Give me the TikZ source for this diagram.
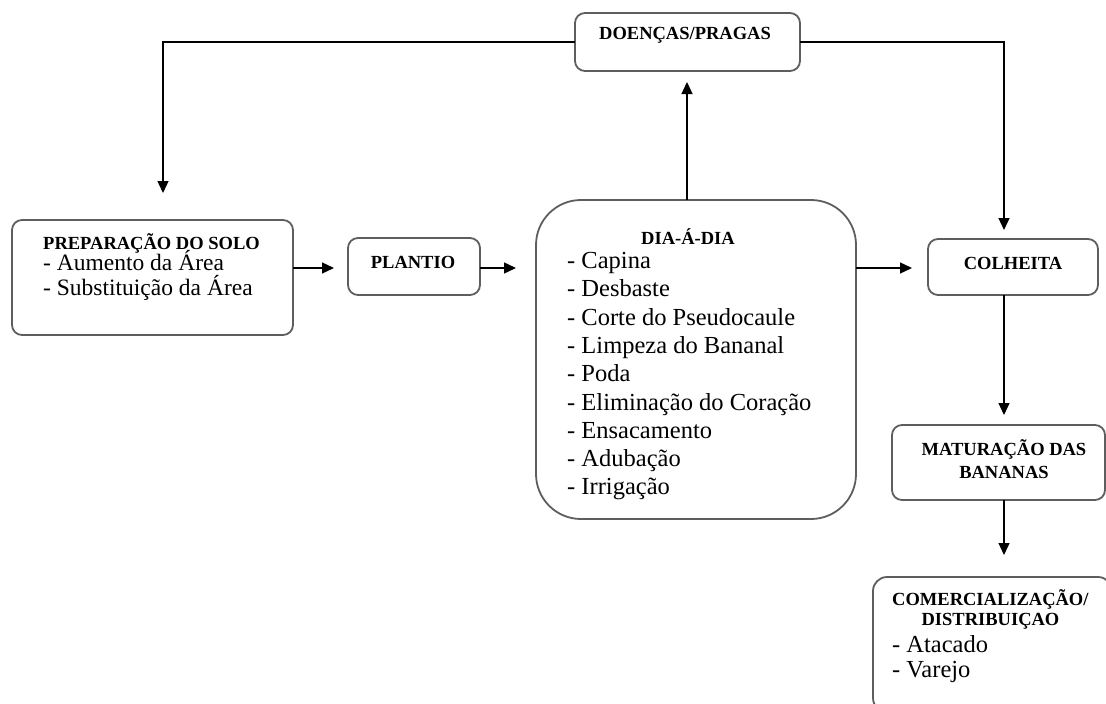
\documentclass[tikz,border=0pt]{standalone}
\usepackage{fontspec}
\setmainfont{Liberation Serif}
\usetikzlibrary{arrows.meta}
\definecolor{framegray}{HTML}{5E5E5E}
\begin{document}
\begin{tikzpicture}[x=1pt,y=-1pt,
  stagebox/.style={draw=framegray,line width=1.8pt,rounded corners=10pt,
    inner sep=0pt,outer sep=0pt,minimum width=#1},
  title/.style={font=\fontsize{18.5}{20}\selectfont\bfseries,inner sep=0pt,anchor=base},
  item/.style={font=\fontsize{24.5}{26}\selectfont,inner sep=0pt,anchor=base west},
  flow/.style={draw=black,line width=1.3pt,-{Triangle[length=12pt,width=11pt]}}]
\useasboundingbox (0,0) rectangle (1106,704);
\clip (0,0) rectangle (1106,704);

% boxes
\node[stagebox=225pt,minimum height=58pt] (doen) at (687.5,42) {};
\node[stagebox=281pt,minimum height=115pt] (prep) at (152.5,277.5) {};
\node[stagebox=132pt,minimum height=57pt] (plan) at (414,266.5) {};
\node[stagebox=320pt,minimum height=319pt,rounded corners=45pt] (dia) at (696,359.5) {};
\node[stagebox=170pt,minimum height=56pt] (colh) at (1013,267) {};
\node[stagebox=213pt,minimum height=75pt] (mat) at (998.5,462.5) {};
\node[stagebox=239pt,minimum height=135pt,rounded corners=14pt] (com) at (992.5,644.5) {};

% texts
\node[title] (tdoen) at (685,39.5) {DOENÇAS/PRAGAS};
\node[title] (tprep) at (151.5,249) {PREPARAÇÃO DO SOLO};
\node[item,font=\fontsize{23.5}{25}\selectfont] (p1) at (43,270) {- Aumento da Área};
\node[item,font=\fontsize{23.5}{25}\selectfont] (p2) at (43,295) {- Substituição da Área};
\node[title] (tplan) at (413,268.5) {PLANTIO};
\node[title] (tdia) at (688,244) {DIA-Á-DIA};
\node[item] (d1) at (567,268.5) {- Capina};
\node[item] (d2) at (567,296.8) {- Desbaste};
\node[item] (d3) at (567,325.1) {- Corte do Pseudocaule};
\node[item] (d4) at (567,353.4) {- Limpeza do Bananal};
\node[item] (d5) at (567,381.7) {- Poda};
\node[item] (d6) at (567,410) {- Eliminação do Coração};
\node[item] (d7) at (567,438.3) {- Ensacamento};
\node[item] (d8) at (567,466.6) {- Adubação};
\node[item] (d9) at (567,494.9) {- Irrigação};
\node[title] (tcolh) at (1013,269) {COLHEITA};
\node[title] (tmat1) at (1004,455) {MATURAÇÃO DAS};
\node[title] (tmat2) at (1004,478) {BANANAS};
\node[title,anchor=base west] (tcom1) at (892,605) {COMERCIALIZAÇÃO/};
\node[title] (tcom2) at (990.5,625) {DISTRIBUIÇAO};
\node[item] (c1) at (892,652) {- Atacado};
\node[item] (c2) at (892,677) {- Varejo};

% free arrow ends
\coordinate (preptip) at (163,193);
\coordinate (colhtip) at (1004,230);

% connectors
\draw[flow] (doen.west) -| (preptip);
\draw[flow] (doen.east) -| (colhtip);
\draw[flow] (dia.north -| 687,0) -- ([yshift=-11pt]doen.south -| 687,0);
\draw[flow] (prep.east |- 0,268) -- ([xshift=-14pt]plan.west |- 0,268);
\draw[flow] (plan.east |- 0,268) -- ([xshift=-20pt]dia.west |- 0,268);
\draw[flow] (dia.east |- 0,268) -- ([xshift=-16pt]colh.west |- 0,268);
\draw[flow] (colh.south -| 1004,0) -- ([yshift=10pt]mat.north -| 1004,0);
\draw[flow] (mat.south -| 1004,0) -- ([yshift=22pt]com.north -| 1004,0);
\end{tikzpicture}
\end{document}
